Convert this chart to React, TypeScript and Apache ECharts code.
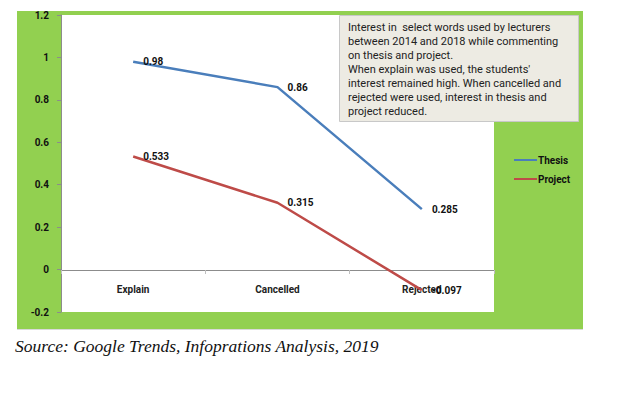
import React, { useEffect, useRef } from "react";
import * as echarts from "echarts";

const categories = ["Explain", "Cancelled", "Rejected"];
const thesis = [0.98, 0.86, 0.285];
const project = [0.533, 0.315, -0.097];
const seriesNames = ["Thesis", "Project"];
const noteLines = [
  "Interest in  select words used by lecturers",
  "between 2014 and 2018 while commenting",
  "on thesis and project.",
  "When explain was used, the students'",
  "interest remained high. When cancelled and",
  "rejected were used, interest in thesis and",
  "project reduced.",
];
const sourceText = "Source: Google Trends, Infoprations Analysis, 2019";

const FONT = "Roboto, 'Noto Sans', sans-serif";

export default function App() {
  const ref = useRef<HTMLDivElement>(null);
  useEffect(() => {
    if (!ref.current) return;
    const chart = echarts.init(ref.current, undefined, { renderer: "svg" });
    const labelStyle = {
      show: true,
      position: "right" as const,
      distance: 10,
      fontSize: 10,
      fontWeight: "bold" as const,
      color: "#111",
      fontFamily: FONT,
    };
    chart.setOption({
      animation: false,
      backgroundColor: "#fff",
      graphic: [
        {
          type: "rect",
          z: -10,
          shape: { x: 17, y: 11, width: 566, height: 318 },
          style: { fill: "#92D050" },
        },
        {
          type: "line",
          z: -10,
          shape: { x1: 17, y1: 329.5, x2: 583, y2: 329.5 },
          style: { stroke: "#d9d9d9", lineWidth: 1 },
        },
        {
          type: "rect",
          z: 100,
          shape: { x: 339.5, y: 15.5, width: 239, height: 106 },
          style: { fill: "#EDEBE3", stroke: "#C8C8C8", lineWidth: 1 },
        },
        {
          type: "text",
          z: 101,
          x: 348,
          y: 20,
          style: {
            text: noteLines.join("\n"),
            font: `11px ${FONT}`,
            lineHeight: 14,
            fill: "#222",
          },
        },
        {
          type: "text",
          z: 101,
          x: 15,
          y: 337,
          style: {
            text: sourceText,
            font: "italic 17.5px 'Liberation Serif', 'Times New Roman', serif",
            fill: "#111",
          },
        },
      ],
      grid: {
        left: 61,
        top: 15,
        width: 433,
        height: 297,
        show: true,
        backgroundColor: "#fff",
        borderWidth: 0,
      },
      legend: {
        orient: "vertical",
        left: 509,
        top: 150,
        itemWidth: 23,
        itemHeight: 2,
        itemGap: 9,
        icon: "rect",
        data: seriesNames,
        textStyle: {
          fontSize: 10,
          fontWeight: "bold",
          color: "#111",
          fontFamily: FONT,
          padding: [0, 0, 0, -4],
        },
      },
      xAxis: {
        type: "category",
        data: categories,
        boundaryGap: true,
        offset: -42,
        axisLine: { onZero: false, lineStyle: { color: "#8c8c8c", width: 1 } },
        axisTick: { show: true, length: 4, lineStyle: { color: "#bfbfbf" } },
        axisLabel: {
          margin: 14,
          fontSize: 10,
          fontWeight: "bold",
          color: "#222",
          fontFamily: FONT,
        },
        splitLine: { show: false },
      },
      yAxis: {
        type: "value",
        min: -0.2,
        max: 1.2,
        interval: 0.2,
        axisLine: { show: true, lineStyle: { color: "#8c8c8c", width: 1 } },
        axisTick: { show: true, length: 4, lineStyle: { color: "#8c8c8c" } },
        axisLabel: {
          margin: 12,
          fontSize: 10,
          fontWeight: "bold",
          color: "#111",
          fontFamily: FONT,
          formatter: (v: number) => String(+v.toFixed(1)),
        },
        splitLine: { show: false },
      },
      series: [
        {
          name: seriesNames[0],
          type: "line",
          data: thesis,
          showSymbol: true,
          symbol: "circle",
          symbolSize: 0.1,
          lineStyle: { color: "#4A7EBB", width: 2.5 },
          itemStyle: { color: "#4A7EBB" },
          label: labelStyle,
          z: 3,
        },
        {
          name: seriesNames[1],
          type: "line",
          data: project,
          showSymbol: true,
          symbol: "circle",
          symbolSize: 0.1,
          lineStyle: { color: "#BE4B48", width: 2.5 },
          itemStyle: { color: "#BE4B48" },
          label: labelStyle,
          z: 3,
        },
      ],
    });
    return () => chart.dispose();
  }, []);
  return (
    <div
      ref={ref}
      style={{ position: "absolute", left: 0, top: 0, width: 635, height: 398 }}
    />
  );
}
